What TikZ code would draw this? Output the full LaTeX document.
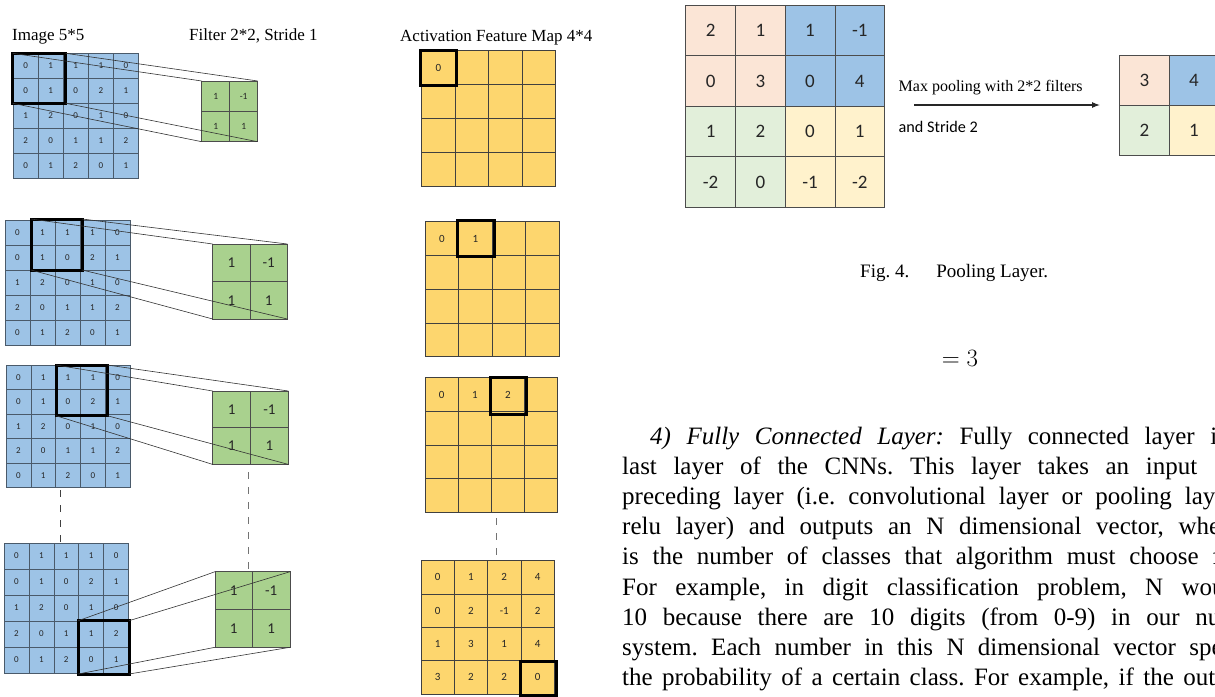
\documentclass[tikz,border=0pt]{standalone}
\usepackage{fontspec}
\setmainfont{Liberation Serif}
\newfontfamily\calib{Carlito}
\usetikzlibrary{arrows.meta}

\definecolor{imgblue}{HTML}{9DC3E6}
\definecolor{filtgreen}{HTML}{A9D18E}
\definecolor{mapyellow}{HTML}{FDD66E}
\definecolor{poolpeach}{HTML}{FBE5D6}
\definecolor{poolblue}{HTML}{9DC3E6}
\definecolor{poolgreen}{HTML}{E2EFDA}
\definecolor{poolyellow}{HTML}{FFF2CC}
\definecolor{gridline}{HTML}{4A5A6A}
\definecolor{celltext}{HTML}{262626}

% a grid of cells: name, left, top, cell width, cell height, cell style, rows
\newcommand\cellgrid[7]{%
  \foreach \rowvals [count=\gi] in #7 {%
    \foreach \val [count=\gj] in \rowvals {%
      \node[#6, minimum width=#4pt, minimum height=#5pt, anchor=north west]
        (#1-\gi-\gj) at ({#2+(\gj-1)*#4},{#3+(\gi-1)*#5}) {\val};
    }%
  }%
}

\def\imgvals{{0,1,1,1,0},{0,1,0,2,1},{1,2,0,1,0},{2,0,1,1,2},{0,1,2,0,1}}
\def\filtvals{{1,-1},{1,1}}
\def\mapA{{0,{},{},{}},{{},{},{},{}},{{},{},{},{}},{{},{},{},{}}}
\def\mapB{{0,1,{},{}},{{},{},{},{}},{{},{},{},{}},{{},{},{},{}}}
\def\mapC{{0,1,2,{}},{{},{},{},{}},{{},{},{},{}},{{},{},{},{}}}
\def\mapD{{0,1,2,4},{0,2,-1,2},{1,3,1,4},{3,2,2,0}}
\def\poolTL{{2,1},{0,3}}
\def\poolTR{{1,-1},{0,4}}
\def\poolBL{{1,2},{-2,0}}
\def\poolBR{{0,1},{-1,-2}}

\begin{document}
\frenchspacing
\begin{tikzpicture}[x=1pt,y=-1pt,
  cellbase/.style={inner sep=0pt, outer sep=0pt, text=celltext},
  imgcell/.style={cellbase, draw=gridline, line width=0.5pt, fill=imgblue,
    font=\calib\fontsize{9}{9}\selectfont},
  filtcell/.style={cellbase, draw=black!70, line width=0.6pt, fill=filtgreen,
    font=\calib\fontsize{15}{15}\selectfont},
  smallfilt/.style={filtcell, font=\calib\fontsize{9.5}{9.5}\selectfont},
  mapcell/.style={cellbase, draw=black!75, line width=0.7pt, fill=mapyellow,
    font=\calib\fontsize{11}{11}\selectfont},
  poolcell/.style={cellbase, draw=black!70, line width=0.8pt, fill=#1,
    font=\calib\fontsize{19}{19}\selectfont},
  hlbox/.style={draw=black, line width=3pt, inner sep=0pt, outer sep=0pt, anchor=north west},
  conn/.style={draw=black!80, line width=0.6pt},
  dashgap/.style={draw=black!55, line width=0.9pt, dash pattern=on 7pt off 8pt},
  headtext/.style={inner sep=0pt, anchor=base west, font=\fontsize{17}{17}\selectfont},
  bodyline/.style={inner sep=0pt, anchor=base west, font=\fontsize{25}{30}\selectfont},
]
\useasboundingbox (0,0) rectangle (1215,696);
\clip (0,0) rectangle (1215,696);

% ---------------- convolution walk-through ----------------
\node[headtext] (hImg) at (12,40) {Image 5*5};
\node[headtext] (hFilt) at (189,40) {Filter 2*2, Stride 1};
\node[headtext] (hMap) at (400,41) {Activation Feature Map 4*4};

% step 1
\cellgrid{a1}{13}{53.3}{25.1}{25}{imgcell}{\imgvals}
\cellgrid{f1}{201.7}{81}{28}{30.35}{smallfilt}{\filtvals}
\cellgrid{m1}{421.7}{50.7}{33.5}{34}{mapcell}{\mapA}
\node[hlbox, minimum width=53pt, minimum height=50pt] (box1) at (12.7,53.3) {};
\node[hlbox, minimum width=36pt, minimum height=34.3pt] (mb1) at (420.7,50.7) {};
\draw[conn] (box1.north west) -- (f1-1-1.north west);
\draw[conn] (box1.north east) -- (f1-1-2.north east);
\draw[conn] (box1.south west) -- (f1-2-1.south west);
\draw[conn] (box1.south east) -- (f1-2-2.south east);

% step 2
\cellgrid{a2}{5}{220}{25}{25}{imgcell}{\imgvals}
\cellgrid{f2}{212.7}{244}{37.3}{37.5}{filtcell}{\filtvals}
\cellgrid{m2}{425}{221.7}{33.6}{33.75}{mapcell}{\mapB}
\node[hlbox, minimum width=51pt, minimum height=51pt] (box2) at (31,219) {};
\node[hlbox, minimum width=36.3pt, minimum height=36.7pt] (mb2) at (457.7,220) {};
\draw[conn] (box2.north west) -- (f2-1-1.north west);
\draw[conn] (box2.north east) -- (f2-1-2.north east);
\draw[conn] (box2.south west) -- (f2-2-1.south west);
\draw[conn] (box2.south east) -- (f2-2-2.south east);

% step 3
\cellgrid{a3}{6}{365}{24.8}{24.5}{imgcell}{\imgvals}
\cellgrid{f3}{212.7}{391}{37.8}{36.7}{filtcell}{\filtvals}
\cellgrid{m3}{425}{377.7}{33.2}{33.65}{mapcell}{\mapC}
\node[hlbox, minimum width=51.3pt, minimum height=50.7pt] (box3) at (56,365) {};
\node[hlbox, minimum width=36.7pt, minimum height=36.6pt] (mb3) at (490,377.7) {};
\draw[conn] (box3.north west) -- (f3-1-1.north west);
\draw[conn] (box3.north east) -- (f3-1-2.north east);
\draw[conn] (box3.south west) -- (f3-2-1.south west);
\draw[conn] (box3.south east) -- (f3-2-2.south east);

% last step
\cellgrid{a4}{4}{543}{24.9}{26}{imgcell}{\imgvals}
\cellgrid{f4}{215}{571.7}{37.5}{37.8}{filtcell}{\filtvals}
\cellgrid{m4}{421}{560.7}{33.3}{33.3}{mapcell}{\mapD}
\node[hlbox, minimum width=50.7pt, minimum height=53.3pt] (box4) at (78.3,620.7) {};
\node[hlbox, minimum width=36.7pt, minimum height=34pt] (mb4) at (520,661.7) {};
\draw[conn] (box4.north west) -- (f4-1-1.north west);
\draw[conn] (box4.north east) -- (f4-1-2.north east);
\draw[conn] (box4.south west) -- (f4-2-1.south west);
\draw[conn] (box4.south east) -- (f4-2-2.south east);

% elided steps
\coordinate (gA1) at (60.7,490);   \coordinate (gA2) at (60.7,542);
\coordinate (gF1) at (248.3,472);  \coordinate (gF2) at (248.3,571.7);
\coordinate (gM1) at (496.7,518);  \coordinate (gM2) at (496.7,560.7);
\draw[dashgap, draw=black!75] (gA1) -- (gA2);
\draw[dashgap] (gF1) -- (gF2);
\draw[dashgap] (gM1) -- (gM2);

% ---------------- pooling ----------------
\cellgrid{pA}{685.8}{5}{49.7}{50.6}{poolcell=poolpeach}{\poolTL}
\cellgrid{pB}{785.2}{5}{49.7}{50.6}{poolcell=poolblue}{\poolTR}
\cellgrid{pC}{685.8}{106.2}{49.7}{50.6}{poolcell=poolgreen}{\poolBL}
\cellgrid{pD}{785.2}{106.2}{49.7}{50.6}{poolcell=poolyellow}{\poolBR}

\node[poolcell=poolpeach, minimum width=49.6pt, minimum height=50pt, anchor=north west] (q11) at (1119.6,55.7) {3};
\node[poolcell=poolblue, minimum width=49.6pt, minimum height=50pt, anchor=north west] (q12) at (1169.2,55.7) {4};
\node[poolcell=poolgreen, minimum width=49.6pt, minimum height=50pt, anchor=north west] (q21) at (1119.6,105.7) {2};
\node[poolcell=poolyellow, minimum width=49.6pt, minimum height=50pt, anchor=north west] (q22) at (1169.2,105.7) {1};

\node[inner sep=0pt, anchor=base west, font=\fontsize{16}{16}\selectfont] (poolA) at (898.5,91.5) {Max pooling with 2*2 filters};
\node[inner sep=0pt, anchor=base west, font=\calib\fontsize{16.2}{16.2}\selectfont] (poolB) at (898.5,132) {and Stride 2};
\coordinate (arrS) at (914,105);
\coordinate (arrE) at (1100,105);
\draw[black!85, line width=1.1pt, -{Latex[length=8pt,width=6pt]}] (arrS) -- (arrE);

\node[inner sep=0pt, anchor=base west, font=\fontsize{19}{19}\selectfont] (cap) at (860,277) {Fig. 4.\hspace{27pt}Pooling Layer.};
\node[inner sep=0pt, anchor=base, font=\fontsize{25}{30}\selectfont] (eqn) at (960,366) {$=3$};

% ---------------- body text ----------------
\node[bodyline] (t1) at (650,444) {\makebox[576.7pt][s]{\textit{4) Fully Connected Layer:} Fully connected layer is}};
\node[bodyline] (t2) at (622,474.2) {\makebox[575pt][s]{last layer of the CNNs. This layer takes an input}};
\node[bodyline] (t3) at (622,504.4) {\makebox[612.5pt][s]{preceding layer (i.e. convolutional layer or pooling layer}};
\node[bodyline] (t4) at (622,534.6) {\makebox[617.5pt][s]{relu layer) and outputs an N dimensional vector, where}};
\node[bodyline] (t5) at (622,564.8) {\makebox[645pt][s]{is the number of classes that algorithm must choose from.}};
\node[bodyline] (t6) at (622,595) {\makebox[621.9pt][s]{For example, in digit classification problem, N would}};
\node[bodyline] (t7) at (622,625.2) {\makebox[649.4pt][s]{10 because there are 10 digits (from 0-9) in our number}};
\node[bodyline] (t8) at (622,655.4) {\makebox[654.5pt][s]{system. Each number in this N dimensional vector specifies}};
\node[bodyline] (t9) at (622,685.6) {\makebox[625pt][s]{the probability of a certain class. For example, if the output}};
\end{tikzpicture}
\end{document}
